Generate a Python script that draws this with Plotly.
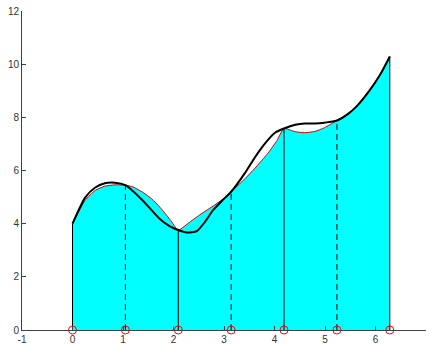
import math
import plotly.graph_objects as go

# Quadrature nodes on [0, 2*pi] and function values at them
nodes_x = [k * math.pi / 3 for k in range(7)]
nodes_y = [4.0, 5.45, 3.76, 5.2, 7.58, 7.88, 10.29]
node_dashed = [False, True, False, True, False, True, False]

# Integrand f(x) sampled along the interval
f_x = [0.0, 0.1, 0.25, 0.45, 0.64, 0.84, 1.047, 1.2, 1.4, 1.57, 1.73, 1.93, 2.094,
       2.33, 2.52, 2.82, 3.02, 3.1416, 3.42, 3.61, 3.87, 4.05, 4.189, 4.41, 4.60, 4.80,
       4.99, 5.236, 5.45, 5.63, 5.89, 6.09, 6.283]
f_y = [4.0, 4.37, 4.88, 5.25, 5.41, 5.46, 5.45, 5.38, 5.17, 4.93, 4.62, 4.16, 3.76,
       4.07, 4.33, 4.71, 4.98, 5.2, 5.7, 6.08, 6.65, 7.13, 7.58, 7.46, 7.42, 7.47,
       7.61, 7.88, 8.12, 8.42, 9.03, 9.6, 10.29]

# Interpolating curve through the nodes
p_x = [0.0, 0.25, 0.45, 0.64, 0.84, 1.047, 1.2, 1.4, 1.57, 1.73, 1.93, 2.094, 2.26, 2.46,
       2.62, 2.78, 2.96, 3.1416, 3.42, 3.61, 3.77, 4.01, 4.189, 4.41, 4.60, 4.80, 4.99, 5.236,
       5.45, 5.63, 5.89, 6.09, 6.283]
p_y = [4.0, 4.98, 5.36, 5.52, 5.54, 5.45, 5.22, 4.85, 4.5, 4.18, 3.9, 3.76, 3.67, 3.72,
       4.06, 4.5, 4.86, 5.2, 5.92, 6.49, 6.92, 7.42, 7.58, 7.72, 7.77, 7.77, 7.8, 7.88,
       8.12, 8.42, 9.03, 9.6, 10.29]

x_ticks = [-1, 0, 1, 2, 3, 4, 5, 6, 7]
y_ticks = [0, 2, 4, 6, 8, 10, 12]

fig = go.Figure()

# Shaded area under f
fig.add_trace(go.Scatter(x=f_x, y=f_y, mode="lines",
                         line=dict(color="rgba(0,0,0,0)", width=0, shape="spline", smoothing=0.5),
                         fill="tozeroy", fillcolor="#00FFFF", hoverinfo="skip"))

# Vertical lines at the nodes
for xv, yv, dashed in zip(nodes_x, nodes_y, node_dashed):
    fig.add_trace(go.Scatter(x=[xv, xv], y=[0, yv], mode="lines",
                             line=dict(color="black", width=1, dash="6px,4px" if dashed else "solid")))

# f itself
fig.add_trace(go.Scatter(x=f_x, y=f_y, mode="lines",
                         line=dict(color="#CC0000", width=1, shape="spline", smoothing=0.5)))

# Interpolant
fig.add_trace(go.Scatter(x=p_x, y=p_y, mode="lines",
                         line=dict(color="black", width=2, shape="spline", smoothing=0.6)))

# Node markers on the x axis
fig.add_trace(go.Scatter(x=nodes_x, y=[0] * len(nodes_x), mode="markers", cliponaxis=False,
                         marker=dict(symbol="circle-open", size=8, color="red", line=dict(width=1, color="red"))))

axis_common = dict(showgrid=False, zeroline=False, showline=True, linecolor="#404040", linewidth=1,
                   ticks="inside", ticklen=4, tickcolor="#404040", mirror=False, automargin=False,
                   tickfont=dict(family="Liberation Sans, Arial, sans-serif", size=10, color="#333333"))

fig.update_layout(
    width=429, height=344,
    margin=dict(l=22, r=3, t=11, b=14),
    paper_bgcolor="white", plot_bgcolor="white",
    showlegend=False,
    xaxis=dict(range=[-1, 7], tickvals=x_ticks, ticktext=[str(v) for v in x_ticks], **axis_common),
    yaxis=dict(range=[0, 12], tickvals=y_ticks, ticktext=[str(v) for v in y_ticks], **axis_common),
)

fig.write_html("out.html")
